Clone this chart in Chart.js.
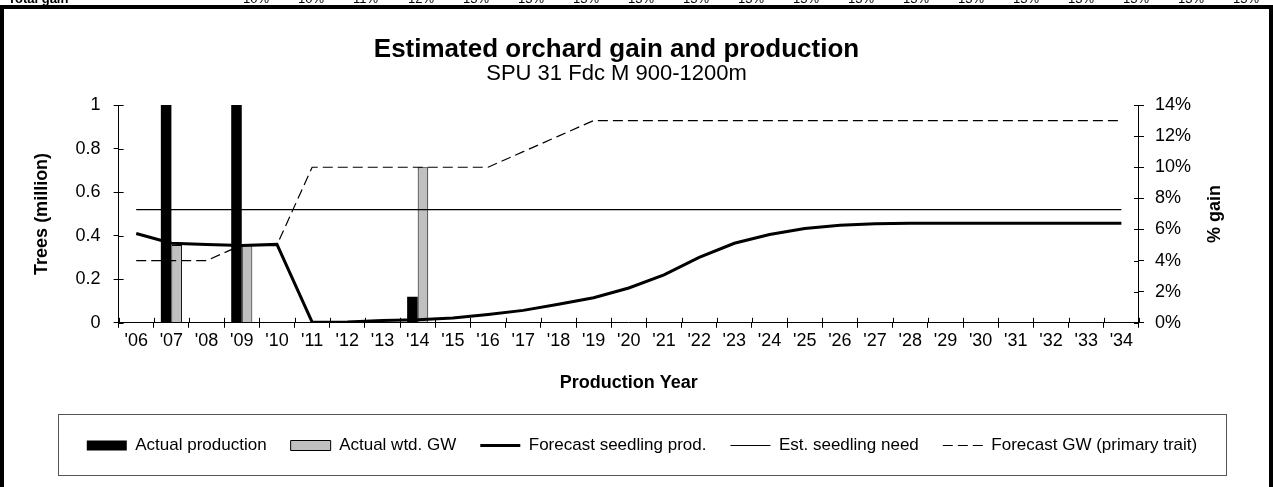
<!DOCTYPE html>
<html>
<head>
<meta charset="utf-8">
<script src="https://cdn.jsdelivr.net/npm/chart.js@4.4.0/dist/chart.umd.min.js"></script>
<style>
  html, body { margin: 0; padding: 0; background: #fff; }
  body { width: 1273px; height: 487px; position: relative; overflow: hidden; font-family: "Liberation Sans", Arial, sans-serif; }
  #wrap { position: absolute; left: 0; top: 0; width: 1273px; height: 487px; }
  .bar { position: absolute; background: #000; }
  #strip { position: absolute; left: 0; top: 0; width: 1273px; height: 5px; overflow: hidden; }
  #strip span { position: absolute; top: -8px; font-size: 13px; line-height: 13px; }
</style>
</head>
<body>
<div id="wrap"><canvas id="myChart" width="1273" height="487"></canvas></div>
<div id="strip"></div>
<div class="bar" style="left:0;top:5px;width:1273px;height:4px"></div>
<div class="bar" style="left:0;top:5px;width:4px;height:482px"></div>
<div class="bar" style="left:1269px;top:5px;width:4px;height:482px"></div>
<script>
// top spreadsheet row (cut off)
const stripValues = ['10%', '10%', '11%', '12%', '13%', '13%', '13%', '13%', '13%', '13%', '13%', '13%', '13%', '13%', '13%', '13%', '13%', '13%', '13%'];

const years = ["'06", "'07", "'08", "'09", "'10", "'11", "'12", "'13", "'14", "'15", "'16", "'17", "'18", "'19", "'20",
  "'21", "'22", "'23", "'24", "'25", "'26", "'27", "'28", "'29", "'30", "'31", "'32", "'33", "'34"];

// million trees
const actualProduction = [null, 1, null, 1, null, null, null, null, 0.12, null, null, null, null, null, null,
  null, null, null, null, null, null, null, null, null, null, null, null, null, null];
// % gain
const actualGW = [null, 5, null, 5, null, null, null, null, 10, null, null, null, null, null, null,
  null, null, null, null, null, null, null, null, null, null, null, null, null, null];
const forecastProd = [0.41, 0.365, 0.36, 0.355, 0.36, 0.003, 0.004, 0.01, 0.014, 0.022, 0.038, 0.057, 0.085, 0.115, 0.16,
  0.22, 0.30, 0.365, 0.405, 0.433, 0.448, 0.455, 0.457, 0.457, 0.457, 0.457, 0.457, 0.457, 0.457];
const seedlingNeed = [0.52, 0.52, 0.52, 0.52, 0.52, 0.52, 0.52, 0.52, 0.52, 0.52, 0.52, 0.52, 0.52, 0.52, 0.52,
  0.52, 0.52, 0.52, 0.52, 0.52, 0.52, 0.52, 0.52, 0.52, 0.52, 0.52, 0.52, 0.52, 0.52];
const forecastGW = [4, 4, 4, 5, 5, 10, 10, 10, 10, 10, 10, 11, 12, 13, 13,
  13, 13, 13, 13, 13, 13, 13, 13, 13, 13, 13, 13, 13, 13];

const leftTicks = [0, 0.2, 0.4, 0.6, 0.8, 1];
const rightTicks = [0, 2, 4, 6, 8, 10, 12, 14];

var strip = document.getElementById('strip');
var s = document.createElement('span');
s.style.left = '8px'; s.style.fontWeight = 'bold'; s.textContent = 'Total gain';
strip.appendChild(s);
stripValues.forEach(function (v, i) {
  var el = document.createElement('span');
  el.style.left = (253 + i * 55 - 10) + 'px';
  el.textContent = v;
  strip.appendChild(el);
});

const FONT = '"Liberation Sans", Arial, sans-serif';
Chart.defaults.font.family = FONT;
Chart.defaults.color = '#000';

// inner half of the crossing tick marks, legend frame, right axis title
const extras = {
  id: 'extras',
  afterLayout(chart) {
    // legend box sits a bit right of the page centre
    const lg = chart.legend;
    const shift = 642 - (lg.left + lg.right) / 2;
    lg.left += shift;
    lg.right += shift;
  },
  afterDraw(chart) {
    const c = chart.ctx, a = chart.chartArea;
    const y = chart.scales.y, y1 = chart.scales.y1;
    c.save();
    c.strokeStyle = '#000';
    c.lineWidth = 1;
    c.beginPath();
    const step = (a.right - a.left) / years.length;
    for (let i = 0; i <= years.length; i++) {
      const px = Math.round(a.left + i * step) + 0.5;
      c.moveTo(px, a.bottom); c.lineTo(px, a.bottom - 5);
    }
    leftTicks.forEach(v => {
      const py = Math.round(y.getPixelForValue(v)) + 0.5;
      c.moveTo(a.left, py); c.lineTo(a.left + 5, py);
    });
    rightTicks.forEach(v => {
      const py = Math.round(y1.getPixelForValue(v)) + 0.5;
      c.moveTo(a.right, py); c.lineTo(a.right - 5, py);
    });
    c.stroke();

    const hb = chart.legend.legendHitBoxes[0];
    const cy = hb.top + hb.height / 2;
    c.strokeStyle = '#555';
    c.strokeRect(58.5, Math.round(cy - 32) + 0.5, 1226 - 58, 61);

    c.translate(a.right + 76, (a.top + a.bottom) / 2);
    c.rotate(-Math.PI / 2);
    c.font = 'bold 18px ' + FONT;
    c.fillStyle = '#000';
    c.textAlign = 'center';
    c.textBaseline = 'middle';
    c.fillText('% gain', 0, 0);
    c.restore();
  }
};

const ctx = document.getElementById('myChart');

var graphData = {
  type: 'bar',
  data: {
    labels: years,
    datasets: [{
      label: 'Actual production',
      data: actualProduction,
      backgroundColor: '#000',
      borderColor: '#000',
      borderWidth: 0,
      yAxisID: 'y',
      order: 2
    }, {
      label: 'Actual wtd. GW',
      data: actualGW,
      backgroundColor: '#c0c0c0',
      borderColor: '#000',
      borderWidth: 1,
      yAxisID: 'y1',
      order: 2
    }, {
      type: 'line',
      label: 'Forecast seedling prod.',
      data: forecastProd,
      borderColor: '#000',
      borderWidth: 3,
      pointRadius: 0,
      tension: 0,
      yAxisID: 'y',
      order: 1
    }, {
      type: 'line',
      label: 'Est. seedling need',
      data: seedlingNeed,
      borderColor: '#000',
      borderWidth: 1.2,
      pointRadius: 0,
      yAxisID: 'y',
      order: 1
    }, {
      type: 'line',
      label: 'Forecast GW (primary trait)',
      data: forecastGW,
      borderColor: '#000',
      borderWidth: 1.2,
      borderDash: [10, 5],
      pointRadius: 0,
      yAxisID: 'y1',
      order: 1
    }]
  },
  options: {
    responsive: false,
    animation: false,
    layout: { padding: { left: 31, right: 71, top: 30, bottom: 23 } },
    datasets: {
      bar: { categoryPercentage: 0.6, barPercentage: 1.0 }
    },
    plugins: {
      title: {
        display: true,
        text: 'Estimated orchard gain and production',
        font: { size: 26, weight: 'bold', lineHeight: 1 },
        color: '#000',
        padding: { top: 7, bottom: 0 }
      },
      subtitle: {
        display: true,
        text: 'SPU 31 Fdc M 900-1200m',
        font: { size: 22, lineHeight: 1 },
        color: '#000',
        padding: { top: 0, bottom: 20 }
      },
      legend: {
        position: 'bottom',
        labels: {
          usePointStyle: true,
          pointStyleWidth: 40,
          boxHeight: 10,
          padding: 24,
          font: { size: 17 },
          color: '#000',
          generateLabels(chart) {
            return chart.data.datasets.map((d, i) => {
              const isBar = (d.type || 'bar') === 'bar';
              return {
                text: d.label,
                datasetIndex: i,
                pointStyle: isBar ? 'rect' : 'line',
                fillStyle: isBar ? d.backgroundColor : 'transparent',
                strokeStyle: '#000',
                lineWidth: d.borderWidth,
                lineDash: d.borderDash || [],
                fontColor: '#000'
              };
            });
          }
        }
      },
      tooltip: { enabled: false }
    },
    scales: {
      x: {
        offset: true,
        grid: { offset: true, drawOnChartArea: false, tickLength: 5, color: '#000' },
        border: { color: '#000' },
        ticks: { font: { size: 18 }, color: '#000', padding: 2, maxRotation: 0, autoSkip: false },
        title: {
          display: true,
          text: 'Production Year',
          font: { size: 18, weight: 'bold' },
          color: '#000',
          padding: { top: 19, bottom: 19 }
        }
      },
      y: {
        position: 'left',
        min: 0,
        max: 1,
        afterBuildTicks(scale) { scale.ticks = leftTicks.map(v => ({ value: v })); },
        grid: { drawOnChartArea: false, tickLength: 5, color: '#000' },
        border: { color: '#000' },
        ticks: { font: { size: 18 }, color: '#000', padding: 13, autoSkip: false, callback: v => String(v) },
        title: {
          display: true,
          text: 'Trees (million)',
          font: { size: 18, weight: 'bold' },
          color: '#000',
          padding: { top: 0, bottom: 10 }
        }
      },
      y1: {
        position: 'right',
        min: 0,
        max: 14,
        afterBuildTicks(scale) { scale.ticks = rightTicks.map(v => ({ value: v })); },
        grid: { drawOnChartArea: false, tickLength: 5, color: '#000' },
        border: { color: '#000' },
        ticks: { font: { size: 18 }, color: '#000', padding: 11, autoSkip: false, callback: v => v + '%' }
      }
    }
  },
  plugins: [extras]
};

var myChart = new Chart(ctx, graphData);
</script>
</body>
</html>
